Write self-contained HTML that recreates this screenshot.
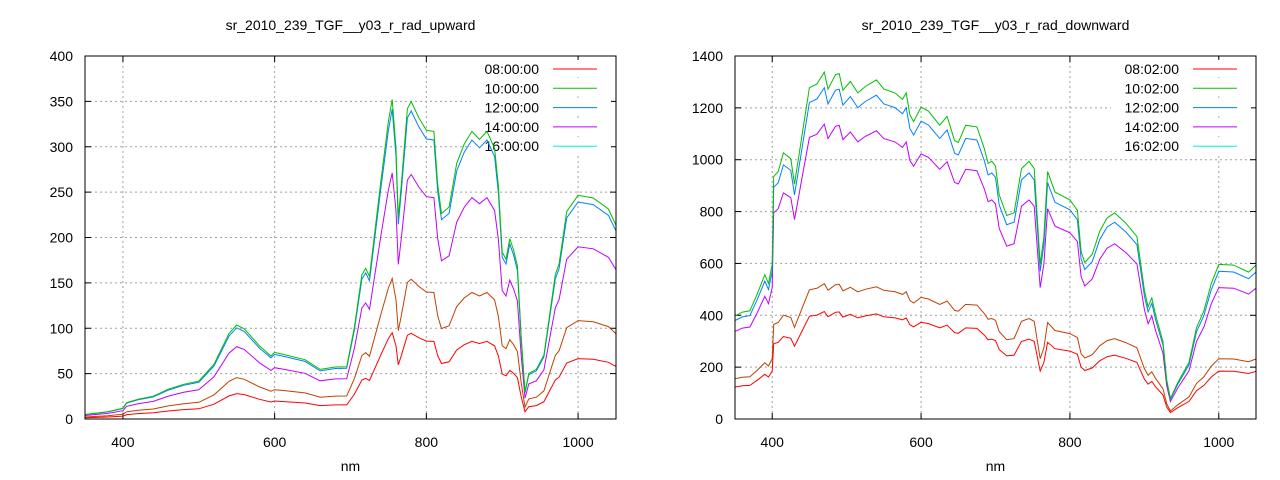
<!DOCTYPE html>
<html><head><meta charset="utf-8"><style>
html,body{margin:0;padding:0;background:#fff;}
svg{display:block;font-family:"Liberation Sans",sans-serif;}
</style></head><body>
<svg id="s" width="1280" height="480" xmlns="http://www.w3.org/2000/svg"></svg>
<script>
const S=document.getElementById('s');let h='';
const up=[[350,5],[380,8],[400,12],[405,18],[420,22],[440,25],[460,33],[480,38],[500,42],[520,60],[540,95],[550,103],[560,100],[580,80],[595,70],[600,73],[610,72],[640,65],[660,55],[680,57],[695,58],[705,100],[715,160],[720,165],[725,158],[740,260],[750,330],[755,350],[760,300],[763,220],[767,260],[775,340],[780,352],[790,330],[800,320],[810,315],[815,260],[820,225],[830,235],[840,280],[850,305],[860,315],[870,310],[880,315],[890,300],[895,255],[900,185],[905,175],[910,200],[915,185],[920,170],[925,90],[930,30],[935,50],[945,55],[955,70],[970,160],[975,170],[985,230],[1000,245],[1020,245],[1040,230],[1050,215]];
const dn=[[350,400],[360,410],[370,420],[380,480],[390,560],[395,520],[400,600],[402,930],[408,960],[415,1020],[425,1010],[430,900],[440,1100],[450,1270],[460,1300],[470,1330],[475,1280],[485,1320],[490,1340],[495,1260],[505,1310],[515,1250],[525,1290],[540,1300],[550,1280],[565,1250],[575,1240],[580,1250],[585,1180],[590,1140],[600,1210],[610,1180],[625,1140],[635,1160],[645,1080],[650,1060],[660,1140],[675,1120],[685,1050],[690,980],[695,1000],[700,970],[705,870],[715,780],[725,800],[735,960],[745,1000],[752,960],[760,600],[765,700],[770,960],[780,870],[800,850],[810,800],[815,650],[820,600],[830,640],[840,720],[850,780],[860,790],[875,760],[890,700],[900,500],[905,430],[910,470],[915,400],[925,300],[930,150],[935,80],[945,140],[960,220],[970,350],[980,420],[990,520],[1000,600],[1020,590],[1040,570],[1050,590]];
function plot(L,R,T,B,ymax,ystep,title,data,scales,leg){
 const X=v=>L+(v-350)/700*(R-L),Y=v=>B-v/ymax*(B-T);
 h+=`<text x="${(L+R)/2}" y="30" font-size="14" text-anchor="middle">${title}</text>`;
 for(let v=0;v<=ymax;v+=ystep){const y=Y(v);
  if(v>0&&v<ymax)h+=`<line x1="${L}" x2="${R}" y1="${y}" y2="${y}" stroke="#a0a0a0" stroke-dasharray="2,3"/>`;
  h+=`<line x1="${L}" x2="${L+6}" y1="${y}" y2="${y}" stroke="#000"/><line x1="${R-6}" x2="${R}" y1="${y}" y2="${y}" stroke="#000"/>`;
  h+=`<text x="${L-12}" y="${y+5}" font-size="14" text-anchor="end">${v}</text>`;}
 for(let v=400;v<=1000;v+=200){const x=X(v);
  h+=`<line x1="${x}" x2="${x}" y1="${T}" y2="${B}" stroke="#a0a0a0" stroke-dasharray="2,3"/>`;
  h+=`<line x1="${x}" x2="${x}" y1="${B-6}" y2="${B}" stroke="#000"/><line x1="${x}" x2="${x}" y1="${T}" y2="${T+6}" stroke="#000"/>`;
  h+=`<text x="${x}" y="${B+28}" font-size="14" text-anchor="middle">${v}</text>`;}
 h+=`<text x="${(L+R)/2}" y="471" font-size="14" text-anchor="middle">nm</text>`;
 const cols=['#ff0000','#00c000','#0080ff','#c000ff','#00eeee'];
 leg.forEach((t,i)=>{const y=69+i*19.3;h+=`<rect x="${R-145}" y="${y-9}" width="140" height="17" fill="#fff"/><text x="${R-77}" y="${y+5}" font-size="14" text-anchor="end">${t}</text><line x1="${R-63}" x2="${R-19}" y1="${y}" y2="${y}" stroke="${cols[i]}"/>`;});
 scales.forEach(([c,k])=>{let p=data.map(([a,b],j)=>{const n=(j%2?1:-1)*0.006*b;return X(a).toFixed(1)+','+Y((b+n)*k).toFixed(1)}).join(' ');
  h+=`<polyline points="${p}" fill="none" stroke="${c}" stroke-width="1"/>`;});
 h+=`<rect x="${L}" y="${T}" width="${R-L}" height="${B-T}" fill="none" stroke="#000"/>`;
}
plot(85,616,56,419,400,50,'sr_2010_239_TGF__y03_r_rad_upward',up,[['#ff0000',0.27],['#c04000',0.44],['#c000ff',0.77],['#0080ff',0.97],['#00c000',1]],['08:00:00','10:00:00','12:00:00','14:00:00','16:00:00']);
plot(735,1256,56,419,1400,200,'sr_2010_239_TGF__y03_r_rad_downward',dn,[['#ff0000',0.31],['#c04000',0.39],['#c000ff',0.85],['#0080ff',0.955],['#00c000',1]],['08:02:00','10:02:00','12:02:00','14:02:00','16:02:00']);
S.innerHTML=h;
</script>
</body></html>
